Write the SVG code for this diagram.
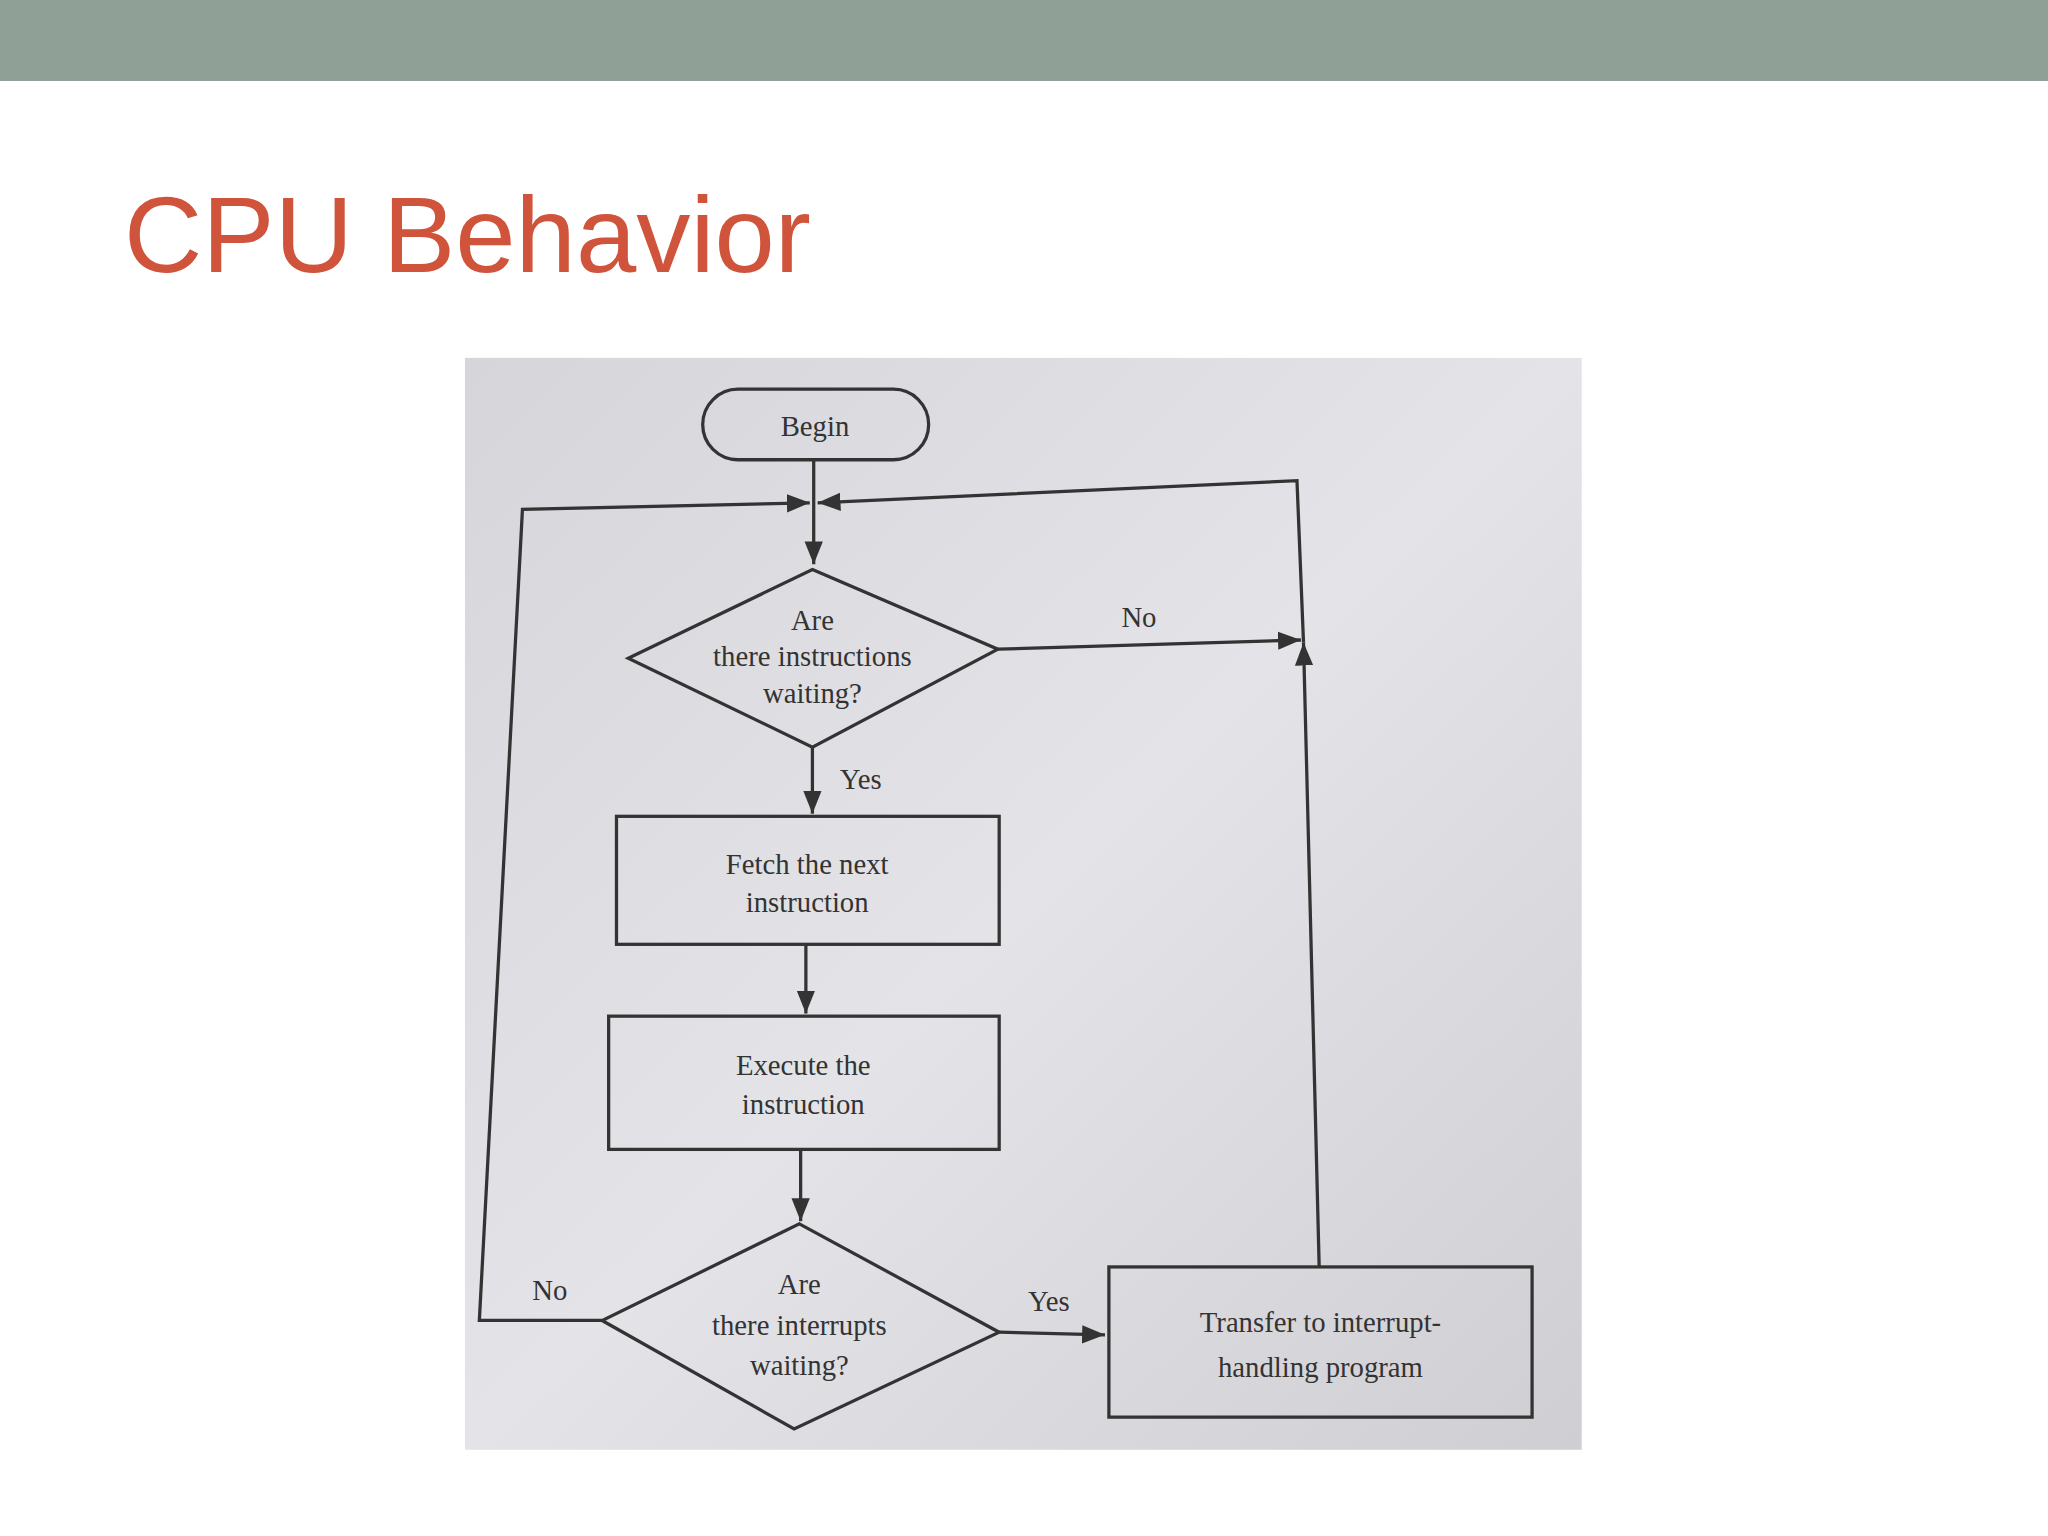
<svg xmlns="http://www.w3.org/2000/svg" width="2048" height="1536" viewBox="0 0 2048 1536">
<defs>
<style>
.s{fill:none;stroke:#333;stroke-width:2.5}
.t{font-family:"Liberation Serif",serif;font-size:22px;fill:#333;text-anchor:middle}
</style>
<marker id="a" viewBox="0 0 10 10" refX="10" refY="5" markerWidth="7" markerHeight="7" orient="auto"><path d="M0,1L10,5L0,9z" fill="#333"/></marker>
<linearGradient id="g" x1="0" y1="0" x2="1" y2="1"><stop offset="0" stop-color="#d6d6da"/><stop offset="0.5" stop-color="#e4e4e8"/><stop offset="1" stop-color="#cfcfd3"/></linearGradient>
</defs>
<rect width="2048" height="1536" fill="#fff"/>
<g transform="scale(1.30612)">
<rect x="0" y="0" width="1568" height="62" fill="#8fa197"/>
<text x="95" y="208" font-family="Liberation Sans,sans-serif" font-size="83" fill="#d0533b">CPU Behavior</text>
<rect x="356" y="274" width="855" height="836" fill="url(#g)"/>
<g id="connectors">
<path class="s" d="M623,352V432" marker-end="url(#a)"/>
<path class="s" d="M461,1011H367L400,390L620,385" marker-end="url(#a)"/>
<path class="s" d="M1010,970L998,492" marker-end="url(#a)"/>
<path class="s" d="M998,492L993,368L626,385" marker-end="url(#a)"/>
<path class="s" d="M764,497L996,490" marker-end="url(#a)"/>
<path class="s" d="M622,572V623" marker-end="url(#a)"/>
<path class="s" d="M617,723V776" marker-end="url(#a)"/>
<path class="s" d="M613,880V935" marker-end="url(#a)"/>
<path class="s" d="M765,1020L846,1022" marker-end="url(#a)"/>
<text class="t" x="872" y="480">No</text>
<text class="t" x="659" y="604">Yes</text>
<text class="t" x="421" y="995">No</text>
<text class="t" x="803" y="1004">Yes</text>
</g>
<g id="begin"><rect class="s" x="538" y="298" width="173" height="54" rx="27"/><text class="t" x="624" y="334">Begin</text></g>
<g id="d1"><path class="s" d="M622,436L764,497L622,572L481,504z"/><text class="t" x="622" y="482">Are</text><text class="t" x="622" y="510">there instructions</text><text class="t" x="622" y="538">waiting?</text></g>
<g id="fetch"><rect class="s" x="472" y="625" width="293" height="98"/><text class="t" x="618" y="669">Fetch the next</text><text class="t" x="618" y="698">instruction</text></g>
<g id="exec"><rect class="s" x="466" y="778" width="299" height="102"/><text class="t" x="615" y="823">Execute the</text><text class="t" x="615" y="853">instruction</text></g>
<g id="d2"><path class="s" d="M612,937L765,1020L608,1094L461,1011z"/><text class="t" x="612" y="991">Are</text><text class="t" x="612" y="1022">there interrupts</text><text class="t" x="612" y="1053">waiting?</text></g>
<g id="transfer"><rect class="s" x="849" y="970" width="324" height="115"/><text class="t" x="1011" y="1020" font-size="26">Transfer to interrupt-</text><text class="t" x="1011" y="1054" font-size="26">handling program</text></g>
</g>
</svg>
